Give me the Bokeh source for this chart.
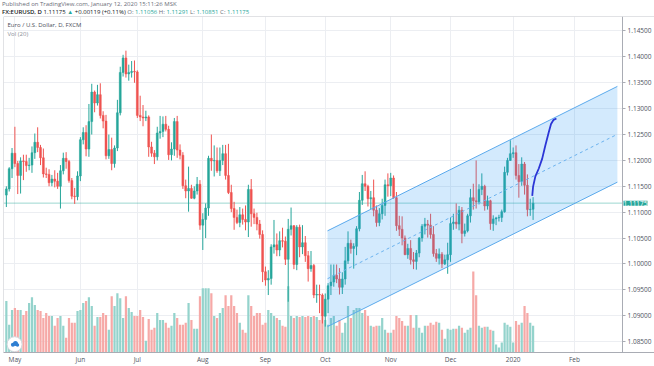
from bokeh.plotting import figure
from bokeh.models import (ColumnDataSource, Range1d, FixedTicker, PrintfTickFormatter,
                          Span, Label, Div, LinearAxis)
from bokeh.layouts import column
from bokeh.embed import file_html
from bokeh.resources import INLINE

# ---- daily bars (index 0 = 26 Apr 2019 ... 185 = 10 Jan 2020) ----
bar_index = list(range(186))
opens = [
    1.1133, 1.1145, 1.1184, 1.1214, 1.1194, 1.1171, 1.1199, 1.1198, 1.1190, 1.1191,
    1.1215, 1.1235, 1.1225, 1.1205, 1.1174, 1.1173, 1.1157, 1.1164, 1.1160, 1.1150,
    1.1180, 1.1204, 1.1198, 1.1161, 1.1131, 1.1130, 1.1170, 1.1240, 1.1254, 1.1222,
    1.1275, 1.1332, 1.1311, 1.1327, 1.1287, 1.1276, 1.1209, 1.1221, 1.1194, 1.1224,
    1.1292, 1.1370, 1.1398, 1.1367, 1.1370, 1.1372, 1.1371, 1.1287, 1.1284, 1.1282,
    1.1284, 1.1226, 1.1214, 1.1207, 1.1253, 1.1256, 1.1270, 1.1260, 1.1211, 1.1222,
    1.1275, 1.1220, 1.1210, 1.1151, 1.1141, 1.1146, 1.1127, 1.1141, 1.1154, 1.1075,
    1.1086, 1.1108, 1.1204, 1.1199, 1.1200, 1.1180, 1.1200, 1.1213, 1.1171, 1.1138,
    1.1107, 1.1090, 1.1080, 1.1095, 1.1086, 1.1081, 1.1144, 1.1097, 1.1090, 1.1077,
    1.1057, 1.0985, 1.0969, 1.0972, 1.1033, 1.1037, 1.1027, 1.1045, 1.1044, 1.1009,
    1.1067, 1.1074, 1.0999, 1.1071, 1.1033, 1.1041, 1.1016, 1.0991, 1.0997, 1.0940,
    1.0941, 1.0940, 1.0899, 1.0932, 1.0958, 1.0965, 1.0978, 1.0971, 1.0955, 1.0971,
    1.1006, 1.1040, 1.1030, 1.1034, 1.1068, 1.1123, 1.1155, 1.1150, 1.1126, 1.1128,
    1.1104, 1.1080, 1.1097, 1.1113, 1.1153, 1.1151, 1.1166, 1.1128, 1.1074, 1.1067,
    1.1050, 1.1018, 1.1030, 1.1008, 1.1005, 1.1021, 1.1050, 1.1073, 1.1077, 1.1075,
    1.1057, 1.1020, 1.1011, 1.1019, 1.1000, 1.1008, 1.1018, 1.1078, 1.1081, 1.1077,
    1.1104, 1.1059, 1.1064, 1.1093, 1.1128, 1.1122, 1.1120, 1.1144, 1.1150, 1.1112,
    1.1122, 1.1078, 1.1087, 1.1089, 1.1090, 1.1101, 1.1177, 1.1200, 1.1213, 1.1215,
    1.1171, 1.1159, 1.1193, 1.1152, 1.1105, 1.11056]
highs = [
    1.1150, 1.1187, 1.1224, 1.1265, 1.1199, 1.1206, 1.1211, 1.1211, 1.1205, 1.1227,
    1.1252, 1.1264, 1.1230, 1.1223, 1.1186, 1.1183, 1.1172, 1.1181, 1.1176, 1.1191,
    1.1215, 1.1216, 1.1201, 1.1166, 1.1147, 1.1179, 1.1245, 1.1264, 1.1268, 1.1309,
    1.1348, 1.1335, 1.1346, 1.1349, 1.1295, 1.1288, 1.1250, 1.1244, 1.1229, 1.1317,
    1.1381, 1.1404, 1.1412, 1.1385, 1.1392, 1.1393, 1.1374, 1.1325, 1.1307, 1.1296,
    1.1287, 1.1236, 1.1220, 1.1265, 1.1286, 1.1285, 1.1286, 1.1267, 1.1235, 1.1282,
    1.1286, 1.1231, 1.1216, 1.1163, 1.1188, 1.1153, 1.1150, 1.1168, 1.1162, 1.1098,
    1.1117, 1.1209, 1.1250, 1.1229, 1.1225, 1.1225, 1.1230, 1.1230, 1.1232, 1.1153,
    1.1120, 1.1105, 1.1110, 1.1107, 1.1113, 1.1153, 1.1164, 1.1107, 1.1099, 1.1085,
    1.1065, 1.0995, 1.0988, 1.1038, 1.1085, 1.1059, 1.1063, 1.1070, 1.1053, 1.1087,
    1.1109, 1.1075, 1.1075, 1.1076, 1.1075, 1.1054, 1.1025, 1.1025, 1.1000, 1.0960,
    1.0960, 1.0943, 1.0943, 1.0963, 1.0999, 1.0999, 1.0999, 1.0992, 1.0984, 1.1033,
    1.1063, 1.1047, 1.1040, 1.1073, 1.1139, 1.1172, 1.1179, 1.1153, 1.1141, 1.1163,
    1.1113, 1.1108, 1.1126, 1.1163, 1.1175, 1.1176, 1.1171, 1.1139, 1.1093, 1.1092,
    1.1055, 1.1039, 1.1046, 1.1023, 1.1027, 1.1052, 1.1077, 1.1089, 1.1085, 1.1097,
    1.1073, 1.1029, 1.1030, 1.1023, 1.1018, 1.1041, 1.1090, 1.1097, 1.1117, 1.1112,
    1.1110, 1.1078, 1.1097, 1.1145, 1.1155, 1.1200, 1.1154, 1.1175, 1.1153, 1.1132,
    1.1124, 1.1094, 1.1091, 1.1095, 1.1105, 1.1188, 1.1205, 1.1239, 1.1225, 1.1229,
    1.1193, 1.1206, 1.1197, 1.1173, 1.1126, 1.11291]
lows = [
    1.1110, 1.1140, 1.1166, 1.1187, 1.1135, 1.1136, 1.1162, 1.1178, 1.1181, 1.1176,
    1.1203, 1.1216, 1.1191, 1.1167, 1.1166, 1.1150, 1.1150, 1.1148, 1.1145, 1.1107,
    1.1173, 1.1184, 1.1157, 1.1125, 1.1116, 1.1123, 1.1160, 1.1231, 1.1208, 1.1207,
    1.1250, 1.1293, 1.1306, 1.1281, 1.1262, 1.1202, 1.1203, 1.1181, 1.1186, 1.1218,
    1.1287, 1.1362, 1.1360, 1.1354, 1.1360, 1.1350, 1.1282, 1.1276, 1.1266, 1.1276,
    1.1207, 1.1207, 1.1193, 1.1200, 1.1242, 1.1245, 1.1256, 1.1201, 1.1200, 1.1209,
    1.1205, 1.1202, 1.1145, 1.1127, 1.1101, 1.1126, 1.1125, 1.1134, 1.1066, 1.1027,
    1.1050, 1.1093, 1.1180, 1.1169, 1.1176, 1.1170, 1.1191, 1.1163, 1.1135, 1.1100,
    1.1066, 1.1077, 1.1071, 1.1076, 1.1065, 1.1052, 1.1072, 1.1077, 1.1065, 1.1049,
    1.0965, 1.0958, 1.0940, 1.0960, 1.1020, 1.1015, 1.1015, 1.1032, 1.0998, 1.0927,
    1.1055, 1.0990, 1.0988, 1.1013, 1.1019, 1.1004, 1.0966, 1.0985, 1.0934, 1.0925,
    1.0905, 1.0885, 1.0879, 1.0905, 1.0940, 1.0956, 1.0963, 1.0941, 1.0942, 1.0960,
    1.1000, 1.1020, 1.0991, 1.1017, 1.1063, 1.1114, 1.1141, 1.1111, 1.1106, 1.1092,
    1.1072, 1.1073, 1.1086, 1.1093, 1.1130, 1.1131, 1.1126, 1.1064, 1.1054, 1.1036,
    1.1017, 1.1010, 1.0999, 1.0990, 1.0989, 1.1013, 1.1043, 1.1057, 1.1051, 1.1049,
    1.1014, 1.1004, 1.0999, 1.0992, 1.0998, 1.0981, 1.1004, 1.1066, 1.1068, 1.1065,
    1.1040, 1.1053, 1.1061, 1.1080, 1.1105, 1.1107, 1.1115, 1.1133, 1.1103, 1.1105,
    1.1066, 1.1064, 1.1075, 1.1082, 1.1081, 1.1099, 1.1171, 1.1199, 1.1205, 1.1163,
    1.1128, 1.1151, 1.1134, 1.1092, 1.1093, 1.10851]
closes = [
    1.1145, 1.1184, 1.1214, 1.1194, 1.1171, 1.1199, 1.1198, 1.1190, 1.1191, 1.1215,
    1.1235, 1.1225, 1.1205, 1.1174, 1.1173, 1.1157, 1.1164, 1.1160, 1.1150, 1.1180,
    1.1204, 1.1198, 1.1161, 1.1131, 1.1130, 1.1170, 1.1240, 1.1254, 1.1222, 1.1275,
    1.1332, 1.1311, 1.1327, 1.1287, 1.1276, 1.1209, 1.1221, 1.1194, 1.1224, 1.1292,
    1.1370, 1.1398, 1.1367, 1.1370, 1.1372, 1.1371, 1.1287, 1.1284, 1.1282, 1.1284,
    1.1226, 1.1214, 1.1207, 1.1253, 1.1256, 1.1270, 1.1260, 1.1211, 1.1222, 1.1275,
    1.1220, 1.1210, 1.1151, 1.1141, 1.1146, 1.1127, 1.1141, 1.1154, 1.1075, 1.1086,
    1.1108, 1.1204, 1.1199, 1.1200, 1.1180, 1.1200, 1.1213, 1.1171, 1.1138, 1.1107,
    1.1090, 1.1080, 1.1095, 1.1086, 1.1081, 1.1144, 1.1097, 1.1090, 1.1077, 1.1057,
    1.0985, 1.0969, 1.0972, 1.1033, 1.1037, 1.1027, 1.1045, 1.1044, 1.1009, 1.1067,
    1.1074, 1.0999, 1.1071, 1.1033, 1.1041, 1.1016, 1.0991, 1.0997, 1.0940, 1.0941,
    1.0940, 1.0899, 1.0932, 1.0958, 1.0965, 1.0978, 1.0971, 1.0955, 1.0971, 1.1006,
    1.1040, 1.1030, 1.1034, 1.1068, 1.1123, 1.1155, 1.1150, 1.1126, 1.1128, 1.1104,
    1.1080, 1.1097, 1.1113, 1.1153, 1.1151, 1.1166, 1.1128, 1.1074, 1.1067, 1.1050,
    1.1018, 1.1030, 1.1008, 1.1005, 1.1021, 1.1050, 1.1073, 1.1077, 1.1075, 1.1057,
    1.1020, 1.1011, 1.1019, 1.1000, 1.1008, 1.1018, 1.1078, 1.1081, 1.1077, 1.1104,
    1.1059, 1.1064, 1.1093, 1.1128, 1.1122, 1.1120, 1.1144, 1.1150, 1.1112, 1.1122,
    1.1078, 1.1087, 1.1089, 1.1090, 1.1101, 1.1177, 1.1200, 1.1213, 1.1215, 1.1171,
    1.1159, 1.1193, 1.1152, 1.1105, 1.11056, 1.11175]
volumes = [
    52, 28, 43, 45, 43, 43, 38, 42, 50, 56,
    48, 43, 42, 35, 40, 37, 37, 27, 35, 37,
    27, 15, 35, 30, 30, 42, 43, 50, 52, 56,
    47, 27, 36, 36, 40, 38, 23, 57, 47, 60,
    55, 35, 57, 45, 41, 37, 37, 43, 36, 12,
    34, 23, 25, 40, 33, 33, 30, 25, 27, 40,
    35, 28, 28, 30, 50, 33, 24, 24, 57, 65,
    65, 65, 60, 37, 35, 40, 45, 58, 47, 58,
    47, 40, 30, 23, 20, 58, 47, 37, 40, 40,
    28, 30, 43, 40, 37, 35, 33, 27, 26, 67,
    37, 35, 37, 36, 37, 36, 37, 36, 37, 36,
    33, 36, 33, 28, 35, 37, 27, 33, 20, 30,
    47, 35, 43, 45, 45, 40, 43, 37, 27, 26,
    27, 27, 35, 23, 20, 20, 23, 37, 35, 32,
    27, 27, 38, 25, 38, 25, 20, 27, 27, 30,
    28, 31, 30, 23, 14, 24, 23, 24, 24, 27,
    25, 20, 23, 25, 82, 58, 27, 25, 26, 26,
    23, 22, 8, 5, 10, 30, 28, 26, 10, 32,
    28, 30, 47, 40, 30, 27]

# ---- axes ----
month_ticks = [3, 26, 46, 69, 91, 112, 135, 156, 178, 199.5]
month_labels = ["May", "Jun", "Jul", "Aug", "Sep", "Oct", "Nov", "Dec", "2020", "Feb"]
price_ticks = [1.085, 1.090, 1.095, 1.100, 1.105, 1.110, 1.115,
               1.120, 1.125, 1.130, 1.135, 1.140, 1.145]

# ---- drawings ----
channel_x = [112.8, 214.6]
channel_upper = [1.1064, 1.1343]
channel_lower = [1.0879, 1.1158]
path_x = [184.7, 185.0, 185.8, 187.0, 188.2, 189.3, 190.5, 191.3, 192.2, 193.2]
path_y = [1.11315, 1.11494, 1.11691, 1.11844, 1.12034, 1.12288, 1.12544,
          1.12702, 1.12784, 1.12811]

UP, DOWN = "#26a69a", "#ef5350"
VUP, VDOWN = "#94d3cc", "#f6a9a7"
FONT = "Open Sans"
TXT = "#50535e"
BORDER = "#c3c6cc"

# plotted time span and the price-scale column to its right
X0, X1, XEND = -1.0, 216.4, 227.64
Y0, Y1 = 1.0829, 1.1478

up = [c >= o for o, c in zip(opens, closes)]
src = ColumnDataSource(dict(
    x=bar_index, high=highs, low=lows, vol=volumes,
    top=[max(o, c) for o, c in zip(opens, closes)],
    bottom=[min(o, c) for o, c in zip(opens, closes)],
    color=[UP if u else DOWN for u in up],
    vcolor=[VUP if u else VDOWN for u in up]))

p = figure(width=654, height=350, x_range=Range1d(X0, XEND),
           y_range=Range1d(Y0, Y1), y_axis_location=None,
           output_backend="svg", toolbar_location=None,
           min_border_left=3, min_border_right=0, min_border_top=0, min_border_bottom=0)
p.extra_y_ranges = {"vol": Range1d(0, 340)}
p.background_fill_color = "white"
p.border_fill_color = "white"
p.outline_line_color = None

p.xgrid.ticker = FixedTicker(ticks=month_ticks)
p.ygrid.ticker = FixedTicker(ticks=price_ticks)
p.xgrid.grid_line_color = "#eceef2"
p.ygrid.grid_line_color = "#eceef2"

# price scale drawn at the right end of the time span
yax = LinearAxis(fixed_location=X1, ticker=FixedTicker(ticks=price_ticks),
                 formatter=PrintfTickFormatter(format="%.5f"))
yax.major_label_text_font = FONT
yax.major_label_text_font_size = "6.5px"
yax.major_label_text_color = TXT
yax.axis_line_color = "#a9acb4"
yax.major_tick_line_color = "#a9acb4"
yax.major_tick_in = 0
yax.major_tick_out = 3
yax.minor_tick_line_color = None
yax.major_label_standoff = 2
p.add_layout(yax, "right")

xax = p.xaxis[0]
xax.ticker = FixedTicker(ticks=month_ticks)
xax.major_label_overrides = {t: lab for t, lab in zip(month_ticks, month_labels)}
xax.major_label_text_font = FONT
xax.major_label_text_font_size = "6.5px"
xax.major_label_text_color = TXT
xax.axis_line_color = "#a9acb4"
xax.major_tick_line_color = None
xax.minor_tick_line_color = None
xax.major_tick_in = 0
xax.major_tick_out = 0
xax.major_label_standoff = 2

# blank background of the price-scale column (hides grid lines there)
p.quad(left=X1, right=XEND, bottom=Y0, top=Y1, fill_color="white", line_color=None)

# pane border (left, top)
p.add_layout(Span(location=X0, dimension="height", line_color=BORDER, line_width=1))
p.add_layout(Span(location=Y1, dimension="width", line_color=BORDER, line_width=1))

# volume
p.vbar(x="x", width=0.78, top="vol", bottom=0, y_range_name="vol",
       fill_color="vcolor", line_color=None, source=src)

# last price line
p.line(x=[X0, X1], y=[closes[-1], closes[-1]], line_color=UP, line_alpha=0.45, line_width=1)

# candles
p.segment(x0="x", y0="low", x1="x", y1="high", line_color="color", line_width=1, source=src)
p.vbar(x="x", width=0.68, top="top", bottom="bottom", fill_color="color",
       line_color="color", line_width=0.5, source=src)

# regression channel
mid = [(a + b) / 2 for a, b in zip(channel_upper, channel_lower)]
p.patch(x=[channel_x[0], channel_x[1], channel_x[1], channel_x[0]],
        y=[channel_upper[0], channel_upper[1], channel_lower[1], channel_lower[0]],
        fill_color="#2196f3", fill_alpha=0.2, line_color=None)
p.line(channel_x, channel_upper, line_color="#5aa9ec", line_width=1)
p.line(channel_x, channel_lower, line_color="#5aa9ec", line_width=1)
p.line(channel_x, mid, line_color="#6bb2ee", line_width=1, line_dash="3 3")

# hand-drawn path
p.line(path_x, path_y, line_color="#2c36d6", line_width=1.8)

# pane texts
p.add_layout(Label(x=X0, y=1.1462, x_offset=4, text="Euro / U.S. Dollar, D, FXCM",
                   text_font=FONT, text_font_size="6px", text_color="#4c4f5a",
                   text_baseline="middle"))
p.add_layout(Label(x=X0, y=1.1444, x_offset=4, text="Vol (20)",
                   text_font=FONT, text_font_size="6px", text_color="#8a8d96",
                   text_baseline="middle"))

# last price tag on the price scale
p.add_layout(Label(x=X1, y=closes[-1], x_offset=1, text=f"{closes[-1]:.5f}",
                   text_font=FONT, text_font_size="6.5px", text_color="white",
                   background_fill_color=UP, text_baseline="middle", text_align="left"))

# logo badge
p.scatter(x=[2.9], y=[1.0845], size=15, fill_color="white", line_color="#d4d7dd")
p.scatter(x=[2.3, 3.2, 3.9], y=[1.08440, 1.08465, 1.08435], size=[4, 5, 3.5],
          fill_color="#2f7fd2", line_color=None)

# header
chg = closes[-1] - closes[-2]
pct = chg / closes[-2] * 100
val = 'style="color:#26a69a"'
header_html = (
    '<div style="font-family:\'Open Sans\',sans-serif;font-size:6px;line-height:8px;'
    'color:#6a6d78;white-space:nowrap;margin:0;padding:0 0 0 2px;">'
    'Published on TradingView.com, January 12, 2020 15:11:26 MSK<br>'
    '<span style="color:#131722;font-weight:600">FX:EURUSD, D</span> '
    f'<span style="color:#131722">{closes[-1]:.5f}</span> '
    f'<span {val}>&#9650;</span> '
    f'<span style="color:#131722">+{chg:.5f} (+{pct:.2f}%)</span> '
    f'O: <span {val}>{opens[-1]:.5f}</span> H: <span {val}>{highs[-1]:.5f}</span> '
    f'L: <span {val}>{lows[-1]:.5f}</span> C: <span {val}>{closes[-1]:.5f}</span>'
    '</div>')
header = Div(text=header_html, width=654, height=16, margin=0)

layout = column(header, p, spacing=0)
open("out.html", "w").write(file_html(layout, INLINE))
